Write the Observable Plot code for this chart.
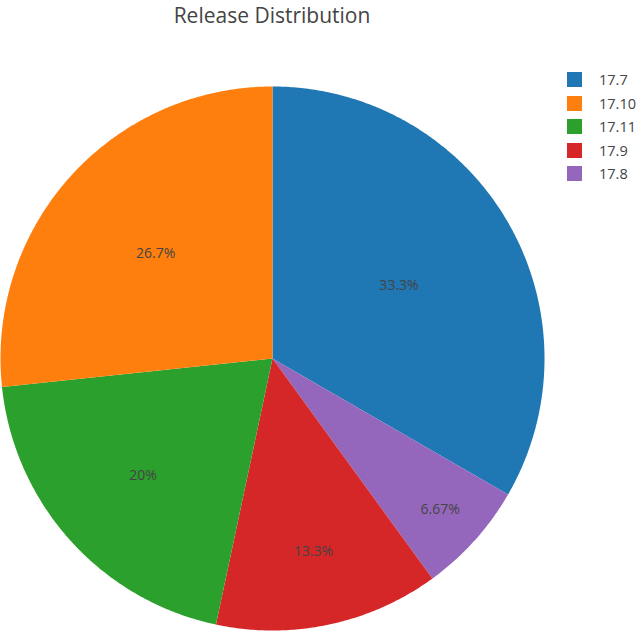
<!DOCTYPE html>
<html>
<head>
<meta charset="utf-8">
<script src="https://cdn.jsdelivr.net/npm/d3@7"></script>
<script src="https://cdn.jsdelivr.net/npm/@observablehq/plot@0.6"></script>
<style>
  html, body { margin: 0; padding: 0; background: #fff; }
  #wrap { position: relative; width: 640px; height: 639px; font-family: "Open Sans", sans-serif; color: #444; }
  #title { position: absolute; left: 0; width: 544px; top: 1px; text-align: center; font-size: 21px; line-height: 28px; }
  #legend { position: absolute; left: 567px; top: 72px; }
  .item { position: relative; height: 23.5px; }
  .sw { position: absolute; left: 0; top: 0; width: 15px; height: 15px; }
  .lb { position: absolute; left: 32px; top: -2px; font-size: 14.5px; line-height: 19px; white-space: nowrap; }
  #chart { position: absolute; left: 0; top: 0; }
</style>
</head>
<body>
<div id="wrap">
  <div id="chart"></div>
  <div id="title">Release Distribution</div>
  <div id="legend"></div>
</div>
<script>
// Data (legend order)
const labels = ["17.7", "17.10", "17.11", "17.9", "17.8"];
const counts = [5, 4, 3, 2, 1];
const colors = ["#1f77b4", "#ff7f0e", "#2ca02c", "#d62728", "#9467bd"];
// Order of slices going clockwise from 12 o'clock
const drawOrder = ["17.7", "17.8", "17.9", "17.11", "17.10"];
const titleText = "Release Distribution";

const total = d3.sum(counts);
let a0 = 0;
const slices = drawOrder.map(l => {
  const i = labels.indexOf(l);
  const v = counts[i];
  const a = v / total * 2 * Math.PI;
  const s = {label: l, value: v, share: v / total, start: a0, end: a0 + a};
  a0 += a;
  return s;
});

// arc outline points (geometry of each wedge)
const points = [];
for (const s of slices) {
  points.push({label: s.label, x: 0, y: 0});
  const n = Math.max(2, Math.ceil((s.end - s.start) * 180 / Math.PI * 2));
  for (let k = 0; k <= n; k++) {
    const t = s.start + (s.end - s.start) * k / n;
    points.push({label: s.label, x: Math.sin(t), y: Math.cos(t)});
  }
  points.push({label: s.label, x: 0, y: 0});
}

// label placement (smaller slices push text outward, like plotly)
const fmt = d3.format(".3~p");
const textPts = slices.map(s => {
  const u = Math.max(0, 1 - s.share * 3);
  const rf = 0.537 + 0.15 * u + 0.27 * u * u;
  const m = (s.start + s.end) / 2;
  return {label: s.label, text: fmt(s.share), x: rf * Math.sin(m), y: rf * Math.cos(m)};
});

const chart = Plot.plot({
  width: 640,
  height: 639,
  margin: 0,
  x: {domain: [-1, 1], range: [0, 544], axis: null},
  y: {domain: [-1, 1], range: [630, 86], axis: null},
  color: {domain: labels, range: colors},
  style: {fontFamily: "'Open Sans', sans-serif", background: "transparent"},
  marks: [
    Plot.line(points, {x: "x", y: "y", z: "label", fill: "label", stroke: "none"}),
    Plot.text(textPts, {x: "x", y: "y", text: "text", fill: "#444", fontSize: 14})
  ]
});
document.getElementById("chart").appendChild(chart);

document.getElementById("title").textContent = titleText;
const legend = document.getElementById("legend");
labels.forEach((l, i) => {
  const it = document.createElement("div");
  it.className = "item";
  const sw = document.createElement("div");
  sw.className = "sw";
  sw.style.background = colors[i];
  const lb = document.createElement("div");
  lb.className = "lb";
  lb.textContent = l;
  it.appendChild(sw); it.appendChild(lb);
  legend.appendChild(it);
});
</script>
</body>
</html>
